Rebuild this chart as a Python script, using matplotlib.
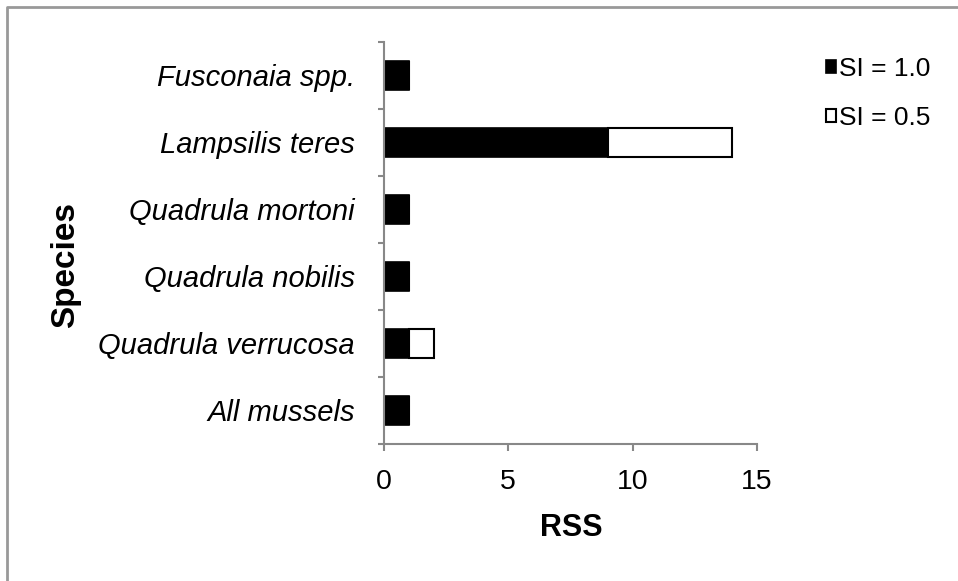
import matplotlib.pyplot as plt
from matplotlib.lines import Line2D
import numpy as np

plt.rcParams['font.family'] = ['Liberation Sans', 'DejaVu Sans']

# data, top to bottom as in the chart
species = ['Fusconaia spp.', 'Lampsilis teres', 'Quadrula mortoni',
           'Quadrula nobilis', 'Quadrula verrucosa', 'All mussels']
si_10 = [1, 9, 1, 1, 1, 1]
si_05 = [0, 5, 0, 0, 1, 0]   # stacked on top of SI = 1.0
x_ticks = [0, 5, 10, 15]

fig = plt.figure(figsize=(9.58, 5.81), dpi=100)
ax = fig.add_axes([0.4008, 0.2358, 0.3894, 0.692])

y = np.arange(len(species))[::-1]
ax.barh(y, si_10, height=0.43, color='black', edgecolor='black', linewidth=1.2, label='SI = 1.0')
ax.barh(y, si_05, left=si_10, height=0.43, color='white', edgecolor='black', linewidth=1.5, label='SI = 0.5')

ax.set_xlim(0, 15)
ax.set_ylim(-0.5, len(species) - 0.5)
ax.set_xticks(x_ticks)
ax.set_xticklabels([str(t) for t in x_ticks], fontsize=20.5)

# category labels at centres, tick marks at boundaries
ax.set_yticks(np.arange(-0.5, len(species), 1.0))
ax.set_yticklabels([])
ax.set_yticks(y, minor=True)
ax.set_yticklabels(species, minor=True, fontsize=21, style='italic')
ax.tick_params(axis='y', which='minor', length=0, pad=21)
ax.tick_params(axis='y', which='major', length=4, width=1.5, color='#888888', direction='out')
ax.tick_params(axis='x', length=5, width=1.5, color='#888888', direction='out', pad=13)

for s in ['top', 'right']:
    ax.spines[s].set_visible(False)
for s in ['left', 'bottom']:
    ax.spines[s].set_color('#888888')
    ax.spines[s].set_linewidth(1.5)

fig.text(0.596, 0.091, 'RSS', fontsize=22, fontweight='bold', ha='center', va='center')
fig.text(0.068, 0.544, 'Species', fontsize=24, fontweight='bold', rotation=90,
         ha='center', va='center')

ax.legend(loc='upper left', bbox_to_anchor=(0.851, 0.92), bbox_transform=fig.transFigure,
          frameon=False, fontsize=19, handlelength=0.4, handleheight=0.4,
          handletextpad=0.1, labelspacing=0.95, borderaxespad=0)

# outer frame (top and left edges)
fig.add_artist(Line2D([7/958, 7/958, 1], [0, 1 - 7/581, 1 - 7/581],
                      transform=fig.transFigure, color='#999999', linewidth=2))

fig.savefig('out.png', dpi=100)
